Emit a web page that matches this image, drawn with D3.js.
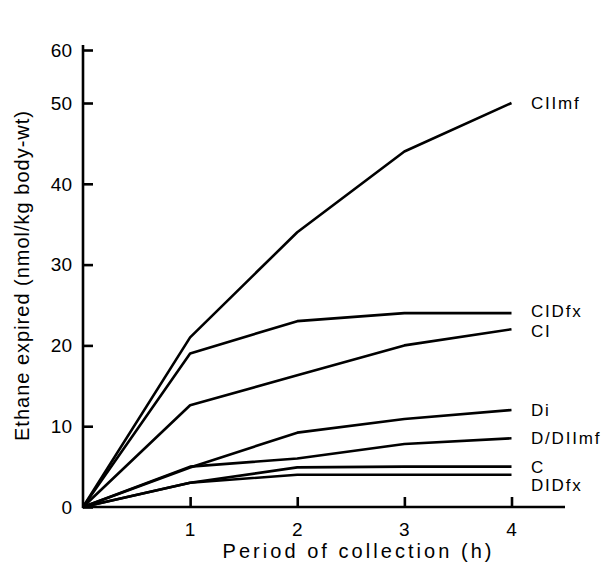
<!DOCTYPE html>
<html>
<head>
<meta charset="utf-8">
<script src="https://cdn.jsdelivr.net/npm/d3@7"></script>
<style>
  html, body { margin: 0; padding: 0; background: #fff; }
  svg { display: block; }
  text { font-family: "Liberation Sans", Arial, Helvetica, sans-serif; fill: #000; }
</style>
</head>
<body>
<svg id="chart" width="608" height="578"></svg>
<script>
// ---- data ----
const hours = [0, 1, 2, 3, 4];
const seriesNames = ["CIImf", "CIDfx", "CI", "DI", "D/DIImf", "C", "DIDfx"];
const seriesLabels = ["CIImf", "CIDfx", "CI", "Di", "D/DIImf", "C", "DIDfx"];
const valCIImf   = [0, 21, 34, 44, 50];
const valCIDfx   = [0, 19, 23, 24, 24];
const valCI      = [0, 12.6, 16.3, 20, 22];
const valDI      = [0, 4.9, 9.2, 10.9, 12];
const valDDIImf  = [0, 5, 6, 7.8, 8.5];
const valC       = [0, 3, 4.9, 5, 5];
const valDIDfx   = [0, 3, 4, 4, 4];
const xTicks = [1, 2, 3, 4];
const yTicks = [0, 10, 20, 30, 40, 50, 60];
const xTitle = "Period of collection (h)";
const yTitle = "Ethane expired (nmol/kg body-wt)";

const seriesValues = [valCIImf, valCIDfx, valCI, valDI, valDDIImf, valC, valDIDfx];

// ---- layout ----
const svg = d3.select("#chart");
const x = d3.scaleLinear().domain([0, 4]).range([83, 511.5]);
// the printed axis is slightly compressed between 50 and 60
const y = d3.scaleLinear().domain([0, 50, 60]).range([507, 103, 50]);

const black = "#000";
const sw = 2.6;

// lines
const line = d3.line().x((d, i) => x(hours[i])).y(d => y(d));
svg.append("g").selectAll("path")
  .data(seriesValues)
  .join("path")
  .attr("d", d => line(d))
  .attr("fill", "none")
  .attr("stroke", black)
  .attr("stroke-width", sw)
  .attr("stroke-linejoin", "round");

// y axis
const yAxis = d3.axisRight(y).tickValues(yTicks).tickSize(10).tickFormat("");
const gy = svg.append("g").attr("transform", `translate(${x(0)},0)`).call(yAxis);
gy.select(".domain").remove();
gy.selectAll(".tick line").attr("stroke", black).attr("stroke-width", sw);
svg.append("line")
  .attr("x1", x(0)).attr("x2", x(0))
  .attr("y1", y(0) + 1).attr("y2", 45)
  .attr("stroke", black).attr("stroke-width", sw);
svg.append("g").selectAll("text")
  .data(yTicks)
  .join("text")
  .attr("x", 72)
  .attr("y", d => y(d))
  .attr("dy", "0.36em")
  .attr("text-anchor", "end")
  .attr("font-size", 19)
  .text(d => d);

// x axis
const xAxis = d3.axisTop(x).tickValues(xTicks).tickSize(10).tickFormat("");
const gx = svg.append("g").attr("transform", `translate(0,${y(0)})`).call(xAxis);
gx.select(".domain").remove();
gx.selectAll(".tick line").attr("stroke", black).attr("stroke-width", sw);
svg.append("line")
  .attr("x1", x(0) - 1).attr("x2", 565)
  .attr("y1", y(0)).attr("y2", y(0))
  .attr("stroke", black).attr("stroke-width", sw);
svg.append("g").selectAll("text")
  .data(xTicks)
  .join("text")
  .attr("x", d => x(d))
  .attr("y", 536)
  .attr("text-anchor", "middle")
  .attr("font-size", 19)
  .text(d => d);

// series labels
const labelDy = { "CIDfx": -2, "CI": 2, "DIDfx": 10 };
svg.append("g").selectAll("text")
  .data(seriesNames)
  .join("text")
  .attr("x", 531)
  .attr("y", (d, i) => y(seriesValues[i][4]) + (labelDy[d] || 0))
  .attr("dy", "0.36em")
  .attr("font-size", 17)
  .attr("letter-spacing", 1.8)
  .text((d, i) => seriesLabels[i]);

// axis titles
svg.append("text")
  .attr("x", 357)
  .attr("y", 558)
  .attr("text-anchor", "middle")
  .attr("font-size", 20)
  .attr("textLength", 269)
  .attr("lengthAdjust", "spacing")
  .text(xTitle);

svg.append("text")
  .attr("transform", "translate(29,276) rotate(-90)")
  .attr("text-anchor", "middle")
  .attr("font-size", 20)
  .attr("textLength", 330)
  .attr("lengthAdjust", "spacing")
  .text(yTitle);
</script>
</body>
</html>
